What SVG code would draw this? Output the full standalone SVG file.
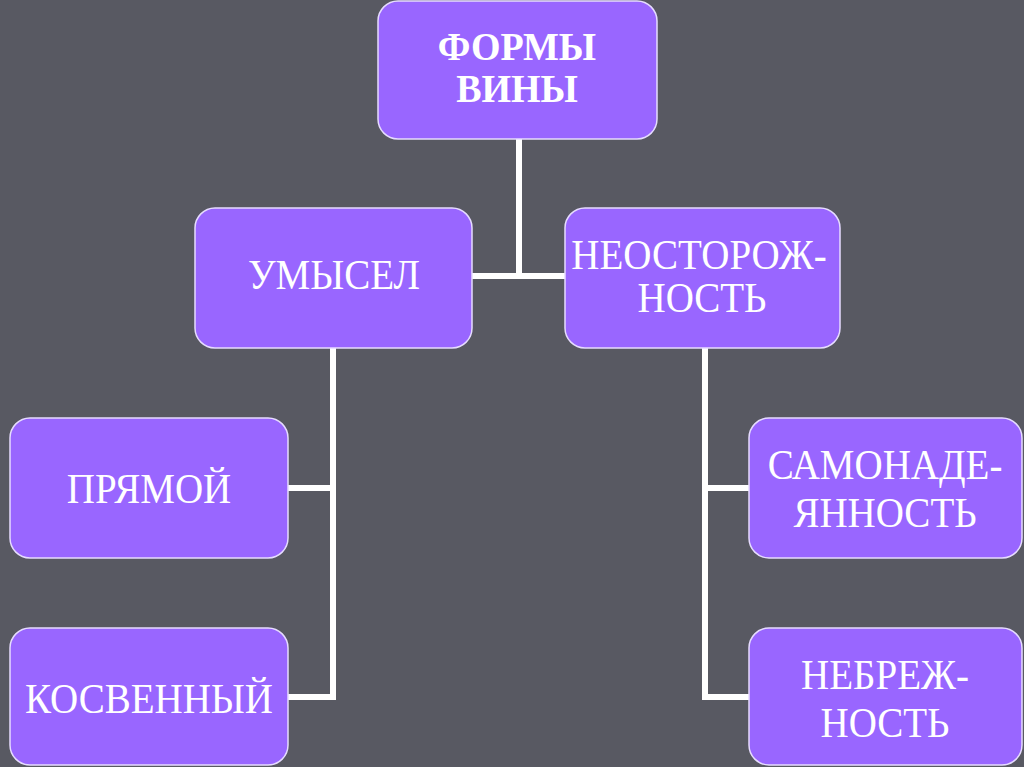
<svg xmlns="http://www.w3.org/2000/svg" width="1024" height="767" viewBox="0 0 1024 767">
<style>
.box{fill:#9966ff;stroke:#e6dcff;stroke-width:1.5}
.t{font-family:"Liberation Serif","Times New Roman",serif;font-size:39px;fill:#ffffff;text-anchor:middle}
.b{font-weight:bold;font-size:38px}
.c{stroke:#ffffff;stroke-width:6;fill:none}
</style>
<rect x="0" y="0" width="1024" height="767" fill="#585962"/>
<g id="connectors">
<polyline class="c" points="519,139 519,276"/>
<line class="c" x1="472" y1="276" x2="565" y2="276"/>
<polyline class="c" points="333,348 333,697 288,697"/>
<line class="c" x1="288" y1="488" x2="333" y2="488"/>
<polyline class="c" points="705,348 705,697 749,697"/>
<line class="c" x1="705" y1="488" x2="749" y2="488"/>
</g>
<g id="formy">
<rect class="box" x="378" y="1" width="279" height="138" rx="20"/>
<text class="t b" transform="translate(517,60) scale(1,1.08)">ФОРМЫ</text>
<text class="t b" transform="translate(517,102) scale(1,1.08)">ВИНЫ</text>
</g>
<g id="umysel">
<rect class="box" x="195" y="208" width="277" height="140" rx="20"/>
<text class="t" transform="translate(334,289) scale(1,1.08)">УМЫСЕЛ</text>
</g>
<g id="neostorozhnost">
<rect class="box" x="565" y="208" width="275" height="140" rx="20"/>
<text class="t" transform="translate(699,269) scale(1,1.08)">НЕОСТОРОЖ-</text>
<text class="t" transform="translate(702,312) scale(1,1.08)">НОСТЬ</text>
</g>
<g id="pryamoy">
<rect class="box" x="10" y="418" width="278" height="140" rx="20"/>
<text class="t" transform="translate(149,503) scale(1,1.08)">ПРЯМОЙ</text>
</g>
<g id="kosvenny">
<rect class="box" x="10" y="628" width="278" height="137" rx="20"/>
<text class="t" transform="translate(149,713) scale(1,1.08)">КОСВЕННЫЙ</text>
</g>
<g id="samonadeyannost">
<rect class="box" x="749" y="418" width="273" height="140" rx="20"/>
<text class="t" transform="translate(885,479) scale(1,1.08)">САМОНАДЕ-</text>
<text class="t" transform="translate(885,527) scale(1,1.08)">ЯННОСТЬ</text>
</g>
<g id="nebrezhnost">
<rect class="box" x="749" y="628" width="273" height="137" rx="20"/>
<text class="t" transform="translate(885,689) scale(1,1.08)">НЕБРЕЖ-</text>
<text class="t" transform="translate(885,737) scale(1,1.08)">НОСТЬ</text>
</g>
</svg>
